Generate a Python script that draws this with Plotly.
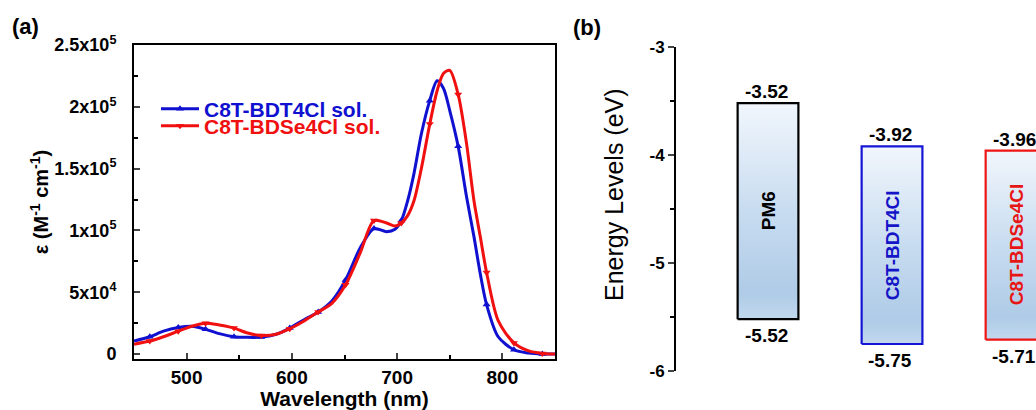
import plotly.graph_objects as go

# ---------------- data ----------------
wavelength = [450, 465, 478, 492, 505, 518, 531, 545, 558, 571, 585, 598, 612, 625, 638, 651,
              665, 678, 690, 698, 704, 710, 716, 723, 731, 738, 744, 750, 758, 766, 773, 779,
              785, 796, 811, 825, 838, 850]
eps_bdt4cl = [10500, 14000, 18500, 21500, 22500, 20000, 16500, 14000, 13500, 13700, 16000, 21000,
              28000, 34000, 43000, 60000, 86000, 101500, 99000, 101000, 108000, 124000, 146000,
              178000, 205000, 221000, 215000, 197000, 168000, 127000, 95000, 65000, 40000, 14000,
              3500, 800, 0, 0]
eps_bdse4cl = [8000, 10500, 14000, 18500, 22500, 25000, 23500, 21000, 17000, 15000, 16000, 20500,
               27000, 34000, 41000, 56000, 82000, 108000, 106000, 103500, 106000, 112000, 124000,
               150000, 186000, 213000, 227000, 229500, 210000, 170000, 124000, 95000, 66000, 27000,
               9000, 2500, 500, 0]
marker_wavelengths = [465, 492, 518, 545, 571, 598, 625, 651, 678, 704, 731, 758, 785, 811, 838]

series_names = ["C8T-BDT4Cl sol.", "C8T-BDSe4Cl sol."]

y_tickvals = [0, 50000, 100000, 150000, 200000, 250000]
y_ticktext = ["0", "5x10<sup>4</sup>", "1x10<sup>5</sup>", "1.5x10<sup>5</sup>",
              "2x10<sup>5</sup>", "2.5x10<sup>5</sup>"]
x_tickvals = [500, 600, 700, 800]

materials = ["PM6", "C8T-BDT4Cl", "C8T-BDSe4Cl"]
lumo = [-3.52, -3.92, -3.96]
homo = [-5.52, -5.75, -5.71]
e_tickvals = [-6, -5, -4, -3]
e_ticktext = ["-6", "-5", "-4", "-3"]

# ---------------- style ----------------
W, H = 1036, 410
FONT = "Liberation Sans, Arial, sans-serif"
BLUE = "#1010d0"
RED = "#f01010"
colors = [BLUE, RED]
symbols = ["triangle-up", "triangle-down"]
legend_ids = ["legend", "legend2"]
legend_ypix = [109, 126]
box_colors = ["black", "#1515d5", "#ee1515"]
text_colors = ["black", "#1515c8", "#e81515"]
grad = [[0.0, "#c2d8ee"], [0.12, "#afcbe7"], [0.5, "#c8dcf0"], [1.0, "#f1f6fc"]]

fig = go.Figure()

# ---- panel (a) ----
for name, vals, c, sym, lg in zip(series_names, [eps_bdt4cl, eps_bdse4cl], colors, symbols,
                                  legend_ids):
    fig.add_trace(go.Scatter(x=wavelength, y=vals, mode="lines",
                             line=dict(color=c, width=3, shape="spline", smoothing=0.8),
                             showlegend=False, xaxis="x", yaxis="y"))
    mx = [w for w in wavelength if w in marker_wavelengths]
    my = [v for w, v in zip(wavelength, vals) if w in marker_wavelengths]
    fig.add_trace(go.Scatter(x=mx, y=my, mode="markers",
                             marker=dict(symbol=sym, size=7, color=c),
                             showlegend=False, xaxis="x", yaxis="y"))
    fig.add_trace(go.Scatter(x=[None], y=[None], mode="lines+markers",
                             line=dict(color=c, width=3),
                             marker=dict(symbol=sym, size=7, color=c),
                             name=f"<span style='color:{c}'>{name}</span>",
                             legend=lg, xaxis="x", yaxis="y"))

# ---- panel (b) ----
hw = 0.245
lab_font = dict(family=FONT, size=19, color="black", weight="bold")
for i, (m, lu, ho, bc, tc) in enumerate(zip(materials, lumo, homo, box_colors, text_colors)):
    p = i + 1
    fig.add_trace(go.Scatter(x=[p - hw, p + hw, p + hw, p - hw, p - hw],
                             y=[ho, ho, lu, lu, ho], mode="lines", fill="toself",
                             fillgradient=dict(type="vertical", colorscale=grad),
                             line=dict(color=bc, width=2.2),
                             showlegend=False, xaxis="x2", yaxis="y2", hoverinfo="skip"))
    fig.add_annotation(x=p, y=lu, xref="x2", yref="y2", text=f"{lu:.2f}", showarrow=False,
                       xanchor="center", yanchor="bottom", yshift=-1, xshift=-2, font=lab_font)
    fig.add_annotation(x=p, y=ho, xref="x2", yref="y2", text=f"{ho:.2f}", showarrow=False,
                       xanchor="center", yanchor="top", yshift=-4, xshift=-2, font=lab_font)
    fig.add_annotation(x=p, y=(lu + ho) / 2, xref="x2", yref="y2", text=m, textangle=-90,
                       showarrow=False, xanchor="center", yanchor="middle",
                       font=dict(family=FONT, size=19, color=tc, weight="bold"))

# panel labels and right-panel axis title
fig.add_annotation(x=25 / W, y=1 - 26 / H, xref="paper", yref="paper", text="(a)",
                   xanchor="center", yanchor="middle", showarrow=False,
                   font=dict(family=FONT, size=22, color="black", weight="bold"))
fig.add_annotation(x=587 / W, y=1 - 27 / H, xref="paper", yref="paper", text="(b)",
                   xanchor="center", yanchor="middle", showarrow=False,
                   font=dict(family=FONT, size=22, color="black", weight="bold"))
fig.add_annotation(x=614 / W, y=1 - 195 / H, xref="paper", yref="paper",
                   text="Energy Levels (eV)", textangle=-90, xanchor="center", yanchor="middle",
                   showarrow=False, font=dict(family=FONT, size=25, color="black"))

legend_common = dict(xanchor="left", yanchor="middle", bgcolor="rgba(0,0,0,0)",
                     itemwidth=38, font=dict(family=FONT, size=21, weight="bold"))

fig.update_layout(
    width=W, height=H,
    margin=dict(l=0, r=0, t=0, b=0),
    plot_bgcolor="white", paper_bgcolor="white",
    font=dict(family=FONT, color="black"),
    showlegend=True,
    legend=dict(x=156 / W, y=1 - legend_ypix[0] / H, **legend_common),
    legend2=dict(x=156 / W, y=1 - legend_ypix[1] / H, **legend_common),
    xaxis=dict(domain=[134 / W, 555 / W], range=[450, 850], tickvals=x_tickvals,
               ticks="inside", ticklen=6, tickwidth=2, linewidth=2, linecolor="black",
               mirror=True, showgrid=False, zeroline=False,
               tickfont=dict(family=FONT, size=19, color="black", weight="bold"),
               minor=dict(tickvals=[550, 650, 750], ticks="inside", ticklen=4, tickwidth=2,
                          tickcolor="black"),
               title=dict(text="Wavelength (nm)", standoff=5,
                          font=dict(family=FONT, size=21, weight="bold")),
               anchor="y", automargin=False),
    yaxis=dict(domain=[(H - 359) / H, (H - 45) / H], range=[-4000, 250000],
               tickvals=y_tickvals, ticktext=y_ticktext,
               ticks="inside", ticklen=6, tickwidth=2, linewidth=2, linecolor="black",
               mirror=True, showgrid=False, zeroline=False,
               tickfont=dict(family=FONT, size=18, color="black", weight="bold"),
               ticklabelstandoff=12,
               minor=dict(tickvals=[25000, 75000, 125000, 175000, 225000], ticks="inside",
                          ticklen=4, tickwidth=2, tickcolor="black"),
               title=dict(text="ε (M<sup>-1</sup> cm<sup>-1</sup>)", standoff=0,
                          font=dict(family=FONT, size=20, weight="bold")),
               anchor="x", automargin=False),
    xaxis2=dict(domain=[676 / W, 1.0], range=[0.258, 3.161], visible=False,
                anchor="y2", fixedrange=True),
    yaxis2=dict(domain=[(H - 371) / H, (H - 47) / H], range=[-6, -3],
                tickvals=e_tickvals, ticktext=e_ticktext,
                ticks="outside", ticklen=6, tickwidth=2, linewidth=2, linecolor="black",
                showgrid=False, zeroline=False,
                tickfont=dict(family=FONT, size=17, color="black", weight="bold"),
                minor=dict(tickvals=[-5.5, -4.5, -3.5], ticks="outside", ticklen=4,
                           tickwidth=2, tickcolor="black"),
                anchor="x2", automargin=False),
)

fig.write_html("out.html", config={"displayModeBar": False},
               post_script="document.body.style.margin='0';")
